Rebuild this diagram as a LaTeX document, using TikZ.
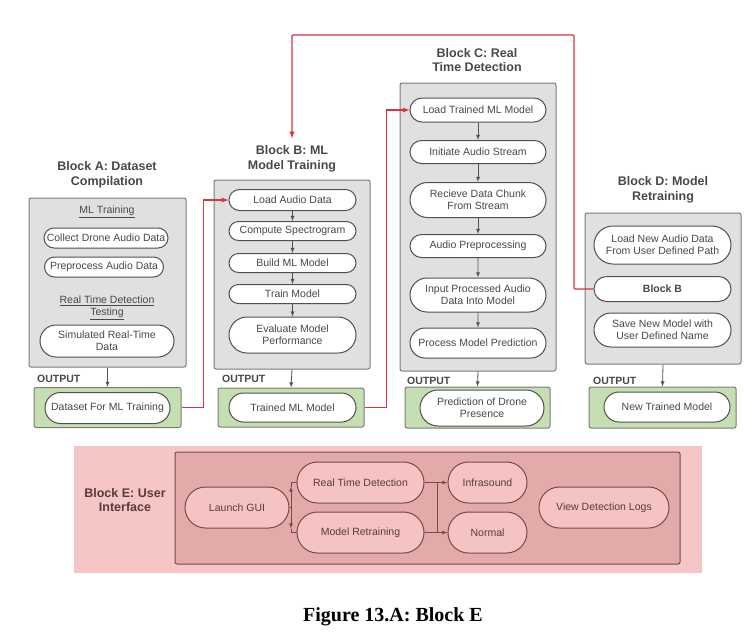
\documentclass[tikz,border=0pt]{standalone}
\usepackage{fontspec}
\setmainfont{Liberation Serif}
\setsansfont{Liberation Sans}
\usepackage{tikz}
\usetikzlibrary{calc,positioning,shapes.misc,arrows}

\definecolor{boxgray}{HTML}{E0E0E0}
\definecolor{boxedge}{HTML}{7A7A7A}
\definecolor{ovaledge}{HTML}{505050}
\definecolor{txtgray}{HTML}{484848}
\definecolor{outgreen}{HTML}{C6DFB2}
\definecolor{linkred}{HTML}{D7343D}
\definecolor{uiouter}{HTML}{F5C6C5}
\definecolor{uiinner}{HTML}{E3AAAA}
\definecolor{uipink}{HTML}{F6C3C3}
\definecolor{uiedge}{HTML}{7B4848}
\definecolor{uitext}{HTML}{5A3A3A}

\begin{document}
\begin{tikzpicture}[x=1pt, y=-1pt,
	font=\sffamily\fontsize{10.5}{12}\selectfont,
	grp/.style={draw=boxedge, fill=boxgray, rounded corners=2pt, line width=1pt},
	outbox/.style={draw=boxedge, fill=outgreen, rounded corners=2pt, line width=1pt},
	task/.style={rounded rectangle, draw=ovaledge, fill=white, line width=1pt, text=txtgray, align=center, inner sep=1pt},
	blocktitle/.style={font=\sffamily\bfseries\fontsize{12.5}{14.5}\selectfont, text=txtgray, align=center},
	outlbl/.style={font=\sffamily\bfseries\fontsize{10.5}{12}\selectfont, text=txtgray, anchor=west, inner sep=0pt},
	heading/.style={text=txtgray, align=center},
	flow/.style={-latex, draw=ovaledge, line width=0.8pt},
	link/.style={-latex, draw=linkred, line width=1.3pt},
	ui/.style={rounded rectangle, draw=uiedge, fill=uipink, line width=1pt, text=uitext, minimum height=41pt, inner sep=1pt},
	uiflow/.style={-latex, draw=uiedge, line width=0.8pt}]
	\useasboundingbox (0,0) rectangle (754,643);

	% Block A
	\node[blocktitle] (titleA) at (107,175) {Block A: Dataset\\Compilation};
	\node[grp, minimum width=157pt, minimum height=169pt] (boxA) at (107.5,282.5) {};
	\node[heading] (mlA) at (107,212) {\underline{ML Training}};
	\node[task, minimum width=126pt, minimum height=20pt] (collectA) at (106,238) {Collect Drone Audio Data};
	\node[task, minimum width=121pt, minimum height=20pt] (prepA) at (104,267) {Preprocess Audio Data};
	\node[heading] (rtdA) at (107,308) {\underline{Real Time Detection}\\\underline{Testing}};
	\node[task, minimum width=136pt, minimum height=32pt] (simA) at (107,341) {Simulated Real-Time\\Data};
	\node[outlbl] (outA) at (37,379) {OUTPUT};
	\node[outbox, minimum width=147pt, minimum height=40pt] (greenA) at (107.5,407.5) {};
	\node[task, minimum width=127pt, minimum height=31pt] (dataA) at (107.5,408) {Dataset For ML Training};
	\draw[flow] (boxA.south) -- (greenA.north);

	% Block B
	\node[blocktitle] (titleB) at (292,159) {Block B: ML\\Model Training};
	\node[grp, minimum width=156pt, minimum height=189pt] (boxB) at (292,274.5) {};
	\node[task, minimum width=129pt, minimum height=21pt] (loadB) at (292.5,200) {Load Audio Data};
	\node[task, minimum width=129pt, minimum height=19pt] (specB) at (292.5,231) {Compute Spectrogram};
	\node[task, minimum width=129pt, minimum height=19pt] (buildB) at (292.5,263) {Build ML Model};
	\node[task, minimum width=129pt, minimum height=19pt] (trainB) at (292.5,294) {Train Model};
	\node[task, minimum width=129pt, minimum height=36pt] (evalB) at (292.5,335) {Evaluate Model\\Performance};
	\draw[flow] (loadB) -- (specB);
	\draw[flow] (specB) -- (buildB);
	\draw[flow] (buildB) -- (trainB);
	\draw[flow] (trainB) -- (evalB);
	\node[outlbl] (outB) at (222,379) {OUTPUT};
	\node[outbox, minimum width=146pt, minimum height=39pt] (greenB) at (291,407.5) {};
	\node[task, minimum width=129pt, minimum height=29pt] (modelB) at (292.5,407.5) {Trained ML Model};
	\draw[flow] (boxB.south) -- (greenB.north);

	% Block C
	\node[blocktitle] (titleC) at (477,60) {Block C: Real\\Time Detection};
	\node[grp, minimum width=156pt, minimum height=288pt] (boxC) at (478,227) {};
	\node[task, minimum width=138pt, minimum height=24pt] (loadC) at (478,110) {Load Trained ML Model};
	\node[task, minimum width=138pt, minimum height=23pt] (initC) at (478,152) {Initiate Audio Stream};
	\node[task, minimum width=138pt, minimum height=35pt] (recvC) at (478,200) {Recieve Data Chunk\\From Stream};
	\node[task, minimum width=138pt, minimum height=23pt] (preC) at (478,246) {Audio Preprocessing};
	\node[task, minimum width=138pt, minimum height=34pt] (inputC) at (478,295) {Input Processed Audio\\Data Into Model};
	\node[task, minimum width=138pt, minimum height=30pt] (procC) at (478,343) {Process Model Prediction};
	\draw[flow] (loadC) -- (initC);
	\draw[flow] (initC) -- (recvC);
	\draw[flow] (recvC) -- (preC);
	\draw[flow] (preC) -- (inputC);
	\draw[flow] (inputC) -- (procC);
	\node[outlbl] (outC) at (407,381) {OUTPUT};
	\node[outbox, minimum width=145pt, minimum height=41pt] (greenC) at (477.5,407.5) {};
	\node[task, minimum width=126pt, minimum height=36pt] (predC) at (482,408) {Prediction of Drone\\Presence};
	\draw[flow] (boxC.south) -- (greenC.north);

	% Block D
	\node[blocktitle] (titleD) at (663,190) {Block D: Model\\Retraining};
	\node[grp, minimum width=156pt, minimum height=151pt] (boxD) at (663,288.5) {};
	\node[task, minimum width=139pt, minimum height=38pt] (loadD) at (662.5,245) {Load New Audio Data\\From User Defined Path};
	\node[task, minimum width=139pt, minimum height=25pt, font=\sffamily\bfseries\fontsize{10.5}{12}\selectfont] (blockbD) at (662.5,289) {Block B};
	\node[task, minimum width=139pt, minimum height=34pt] (saveD) at (662.5,330) {Save New Model with\\User Defined Name};
	\node[outlbl] (outD) at (593,381) {OUTPUT};
	\node[outbox, minimum width=147pt, minimum height=41pt] (greenD) at (662.5,407.5) {};
	\node[task, minimum width=128pt, minimum height=30pt] (newD) at (667,407) {New Trained Model};
	\draw[flow] (boxD.south) -- (greenD.north);

	% red links between blocks
	\draw[link] (greenA.east) -- ++(22,0) |- (loadB.west);
	\draw[link] (greenB.east) -- ++(22,0) |- (loadC.west);
	\coordinate (loopTop) at (574,35);
	\draw[link, rounded corners=1pt, shorten >=4pt] (blockbD.west) -| (loopTop) -| (titleB.north);

	% Block E
	\node[fill=uiouter, minimum width=628pt, minimum height=127pt] (boxE) at (388,509.5) {};
	\node[blocktitle, text=uitext] (titleE) at (125,500) {Block E: User\\Interface};
	\node[draw=uiedge, fill=uiinner, line width=1pt, rounded corners=2pt, minimum width=505pt, minimum height=112pt] (innerE) at (427.5,508) {};
	\node[ui, minimum width=106pt] (launchE) at (237,507.5) {Launch GUI};
	\node[ui, minimum width=129pt] (rtdE) at (360.5,482.5) {Real Time Detection};
	\node[ui, minimum width=129pt] (retrE) at (360.5,532.5) {Model Retraining};
	\node[ui, minimum width=81pt] (infraE) at (487.5,482.5) {Infrasound};
	\node[ui, minimum width=81pt] (normalE) at (487.5,532.5) {Normal};
	\node[ui, minimum width=132pt] (logsE) at (604,507.5) {View Detection Logs};
	\coordinate (fork) at ($(launchE.east)+(1.5,0)$);
	\draw[draw=uiedge, line width=0.8pt] (launchE.east) -- (fork);
	\draw[uiflow] (fork) -- ($(fork |- rtdE.west)+(0,4)$);
	\draw[uiflow] (fork) -- ($(fork |- retrE.west)+(0,-4)$);
	\draw[draw=uiedge, line width=0.8pt] ($(fork |- rtdE.west)+(0,4)$) |- (rtdE.west);
	\draw[draw=uiedge, line width=0.8pt] ($(fork |- retrE.west)+(0,-4)$) |- (retrE.west);
	\draw[uiflow] (rtdE) -- (infraE);
	\draw[uiflow] (retrE) -- (normalE);
	\draw[draw=uiedge, line width=0.8pt] ($(rtdE.east)!0.55!(infraE.west)$) -- ($(retrE.east)!0.55!(normalE.west)$);

	% caption
	\node[font=\rmfamily\bfseries\fontsize{20}{24}\selectfont] (caption) at (393,617) {Figure 13.A: Block E};
\end{tikzpicture}
\end{document}
